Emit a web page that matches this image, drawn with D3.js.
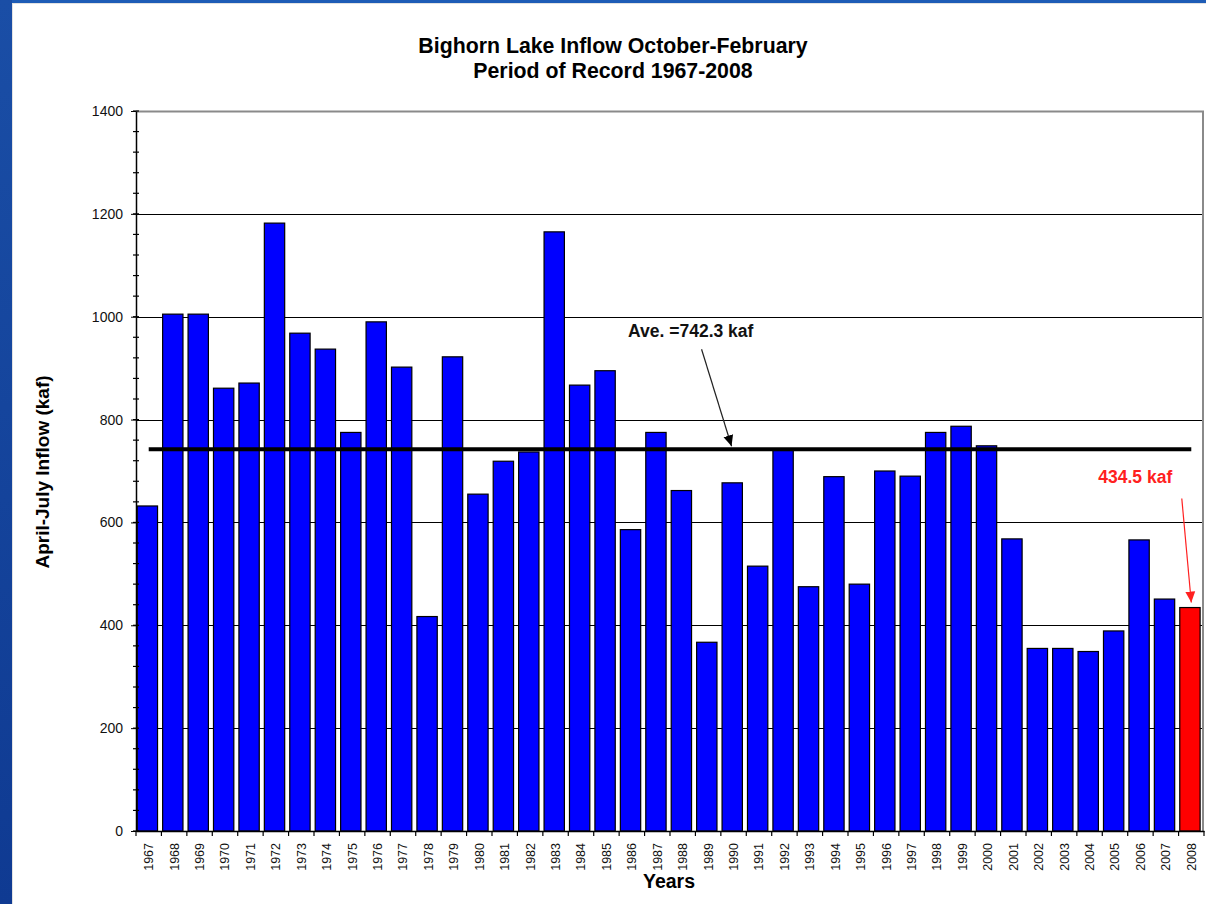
<!DOCTYPE html>
<html>
<head>
<meta charset="utf-8">
<script src="https://cdn.jsdelivr.net/npm/d3@7"></script>
<style>
  body { margin: 0; background: #fff; }
  text { font-family: Arial, "Liberation Sans", sans-serif; }
</style>
</head>
<body>
<div class="bar"></div>
<script>

// DATA ------------------------------------

const years = ["1967","1968","1969","1970","1971","1972","1973","1974","1975","1976",
  "1977","1978","1979","1980","1981","1982","1983","1984","1985","1986",
  "1987","1988","1989","1990","1991","1992","1993","1994","1995","1996",
  "1997","1998","1999","2000","2001","2002","2003","2004","2005","2006",
  "2007","2008"];

const inflow = [632, 1005, 1005, 861, 871, 1182, 968, 937, 775, 990,
  902, 417, 922, 655, 719, 737, 1165, 867, 895, 586,
  775, 662, 367, 677, 515, 740, 475, 689, 480, 700,
  690, 775, 787, 749, 568, 355, 355, 349, 389, 566,
  451, 434.5];

const average = 742.3;
const highlightYear = "2008";

const yTicks = [0, 200, 400, 600, 800, 1000, 1200, 1400];
const gridTicks = [200, 400, 600, 800, 1000, 1200];
const minorStep = 40;

const data = years.map((y, i) => ({year: y, value: inflow[i]}));


// CHART INIT ------------------------------

const W = 1206, H = 904;
const margin = {top: 111, right: 2, bottom: 73, left: 136};
const width = W - margin.left - margin.right;
const height = H - margin.top - margin.bottom;

const root = d3.select(".bar").append("svg")
  .attr("width", W)
  .attr("height", H);

// blue frame of the slide
const defs = root.append("defs");
const grad = defs.append("linearGradient")
  .attr("id", "sideBlue")
  .attr("x1", 0).attr("y1", 0).attr("x2", 0).attr("y2", 1);
grad.append("stop").attr("offset", "0%").attr("stop-color", "#1a4ea6");
grad.append("stop").attr("offset", "100%").attr("stop-color", "#0f3a92");

root.append("rect").attr("x", 0).attr("y", 0).attr("width", W).attr("height", 3)
  .attr("fill", "#1e5cb6");
root.append("rect").attr("x", 0).attr("y", 0).attr("width", 12).attr("height", H)
  .attr("fill", "url(#sideBlue)");
root.append("line").attr("x1", 12).attr("x2", W).attr("y1", 3.5).attr("y2", 3.5)
  .attr("stroke", "#e2e2e2");
root.append("line").attr("x1", 12.5).attr("x2", 12.5).attr("y1", 3).attr("y2", H)
  .attr("stroke", "#e2e2e2");

// arrow heads
function arrowHead(id, color) {
  defs.append("marker")
    .attr("id", id)
    .attr("viewBox", "0 -5 10 10")
    .attr("refX", 10).attr("refY", 0)
    .attr("markerUnits", "userSpaceOnUse")
    .attr("markerWidth", 11).attr("markerHeight", 11)
    .attr("orient", "auto")
    .append("path")
    .attr("d", "M0,-4.5L10,0L0,4.5Z")
    .attr("fill", color);
}
arrowHead("arrowBlack", "#000");
arrowHead("arrowRed", "#ff2020");

// titles
root.append("text")
  .attr("x", 613).attr("y", 53)
  .attr("text-anchor", "middle")
  .attr("font-size", 21.3).attr("font-weight", "bold")
  .text("Bighorn Lake Inflow October-February");
root.append("text")
  .attr("x", 613).attr("y", 78)
  .attr("text-anchor", "middle")
  .attr("font-size", 21.3).attr("font-weight", "bold")
  .text("Period of Record 1967-2008");

const svg = root.append("g")
  .attr("transform", "translate(" + margin.left + "," + margin.top + ")");

// scales
const xScale = d3.scaleBand()
  .domain(years)
  .range([0, width])
  .padding(0);

const yScale = d3.scaleLinear()
  .domain([0, 1400])
  .range([height, 0]);

// gridlines
svg.append("g")
  .attr("class", "grid")
  .selectAll("line")
  .data(gridTicks)
  .enter().append("line")
  .attr("x1", 0).attr("x2", width)
  .attr("y1", d => Math.round(yScale(d)) + 0.5)
  .attr("y2", d => Math.round(yScale(d)) + 0.5)
  .attr("stroke", "#000")
  .attr("stroke-width", 1);

// plot area border (top / right)
svg.append("line")
  .attr("x1", 0).attr("x2", width)
  .attr("y1", yScale(1400) + 0.5).attr("y2", yScale(1400) + 0.5)
  .attr("stroke", "#8a8a8a").attr("stroke-width", 2);
svg.append("line")
  .attr("x1", width - 1).attr("x2", width - 1)
  .attr("y1", yScale(1400)).attr("y2", yScale(0))
  .attr("stroke", "#8a8a8a").attr("stroke-width", 2);

// bars
const bw = xScale.bandwidth();
svg.selectAll(".bar-rect")
  .data(data)
  .enter()
  .append("rect")
  .attr("class", "bar-rect")
  .attr("x", d => xScale(d.year) + 1.2)
  .attr("y", d => yScale(d.value))
  .attr("width", bw * 0.8)
  .attr("height", d => height - yScale(d.value))
  .attr("fill", d => d.year == highlightYear ? "#ff0000" : "#0000ff")
  .attr("stroke", "#000")
  .attr("stroke-width", 1.2);

// average line
const avgLine = d3.line()
  .x(d => xScale(d) + bw / 2)
  .y(() => yScale(average));

svg.append("path")
  .datum(years)
  .attr("d", avgLine)
  .attr("fill", "none")
  .attr("stroke", "#000")
  .attr("stroke-width", 4);

// y axis
const yAxis = d3.axisLeft(yScale)
  .tickValues(yTicks)
  .tickFormat(d3.format("d"))
  .tickSize(5)
  .tickSizeOuter(0)
  .tickPadding(8);

svg.append("g")
  .attr("class", "y-axis")
  .call(yAxis)
  .call(g => g.selectAll("text").attr("font-size", 14).attr("fill", "#111")
    .attr("font-family", "Arial, 'Liberation Sans', sans-serif"))
  .call(g => g.select(".domain").attr("stroke-width", 1.5));

// minor y ticks (cross the axis)
svg.append("g")
  .attr("class", "y-minor")
  .selectAll("line")
  .data(d3.range(0, 1400 + 1, minorStep))
  .enter().append("line")
  .attr("x1", -3).attr("x2", 3)
  .attr("y1", d => yScale(d)).attr("y2", d => yScale(d))
  .attr("stroke", "#000")
  .attr("stroke-width", 1.2);

// x axis
const xAxis = d3.axisBottom(xScale)
  .tickSize(0)
  .tickSizeOuter(0);

svg.append("g")
  .attr("class", "x-axis")
  .attr("transform", `translate(0, ${height})`)
  .call(xAxis)
  .call(g => g.select(".domain").attr("stroke-width", 1.5))
  .call(g => g.selectAll("text")
    .attr("font-size", 12.5)
    .attr("font-family", "Arial, 'Liberation Sans', sans-serif")
    .attr("fill", "#111")
    .attr("transform", "rotate(-90)")
    .attr("x", -12)
    .attr("y", 0)
    .attr("dy", "0.35em")
    .style("text-anchor", "end"));

// x tick marks at category boundaries
svg.append("g")
  .attr("class", "x-ticks")
  .selectAll("line")
  .data(years.concat(["end"]))
  .enter().append("line")
  .attr("x1", d => d == "end" ? width : xScale(d))
  .attr("x2", d => d == "end" ? width : xScale(d))
  .attr("y1", height).attr("y2", height + 5)
  .attr("stroke", "#000")
  .attr("stroke-width", 1.2);

// axis titles
svg.append("text")
  .attr("class", "y-axis-title")
  .attr("transform", `translate(${42 - margin.left}, ${472 - margin.top}) rotate(-90)`)
  .attr("text-anchor", "middle")
  .attr("dy", "0.35em")
  .attr("font-size", 19)
  .attr("font-weight", "bold")
  .text("April-July Inflow (kaf)");

svg.append("text")
  .attr("class", "x-axis-title")
  .attr("x", 669 - margin.left)
  .attr("y", height + 57)
  .attr("text-anchor", "middle")
  .attr("font-size", 19.5)
  .attr("font-weight", "bold")
  .text("Years");

// annotations
const avgTipX = xScale("1990") + bw / 2 - 2;
const avgTipY = yScale(average) - 3;

svg.append("text")
  .attr("x", xScale("1988") + bw / 2 + 8)
  .attr("y", avgTipY - 109)
  .attr("text-anchor", "middle")
  .attr("font-size", 17.5)
  .attr("font-weight", "bold")
  .attr("fill", "#111")
  .text("Ave. =742.3 kaf");

svg.append("line")
  .attr("x1", avgTipX - 30).attr("y1", avgTipY - 97)
  .attr("x2", avgTipX).attr("y2", avgTipY)
  .attr("stroke", "#222")
  .attr("stroke-width", 1.2)
  .attr("marker-end", "url(#arrowBlack)");

const lastVal = inflow[inflow.length - 1];
const redTipX = xScale(highlightYear) + bw / 2;
const redTipY = yScale(lastVal) - 5;

svg.append("text")
  .attr("x", redTipX - 56)
  .attr("y", redTipY - 120)
  .attr("text-anchor", "middle")
  .attr("font-size", 17.5)
  .attr("font-weight", "bold")
  .attr("fill", "#ff2020")
  .text(lastVal + " kaf");

svg.append("line")
  .attr("x1", redTipX - 9.5).attr("y1", redTipY - 104)
  .attr("x2", redTipX).attr("y2", redTipY)
  .attr("stroke", "#ff2020")
  .attr("stroke-width", 1.2)
  .attr("marker-end", "url(#arrowRed)");

</script>
</body>
</html>
